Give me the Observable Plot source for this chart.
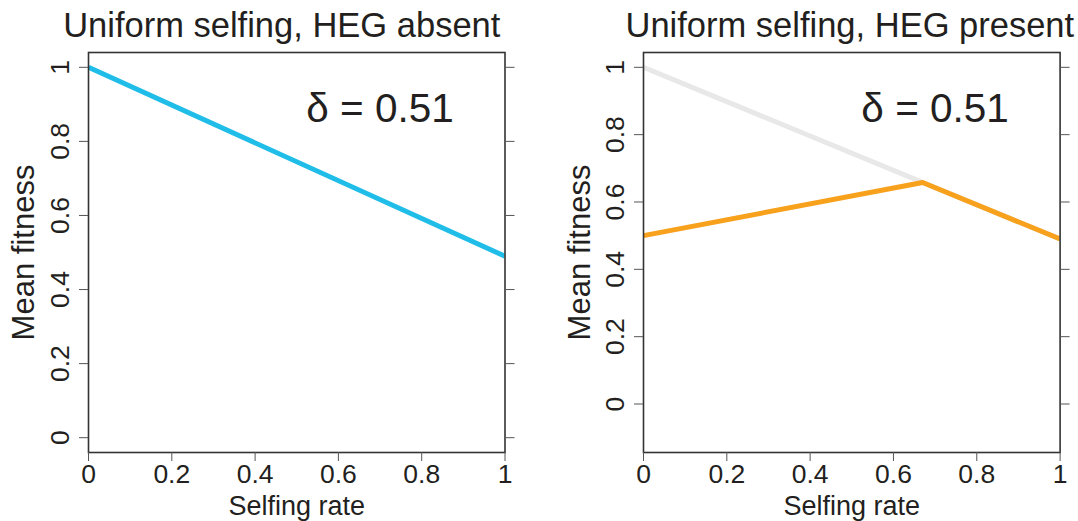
<!DOCTYPE html>
<html>
<head>
<meta charset="utf-8">
<script src="https://cdn.jsdelivr.net/npm/d3@7"></script>
<script src="https://cdn.jsdelivr.net/npm/@observablehq/plot@0.6"></script>
<style>
  html, body { margin: 0; padding: 0; background: #fff; }
  #wrap { width: 1078px; height: 521px; display: flex; flex-direction: row; }
  #wrap > svg, #wrap > figure { display: block; margin: 0; }
</style>
</head>
<body>
<div id="wrap"></div>
<script>
// ---- data ----
const titles = ["Uniform selfing, HEG absent", "Uniform selfing, HEG present"];
const deltaLabel = "δ = 0.51";
const xLabel = "Selfing rate";
const yLabel = "Mean fitness";

const tickValues = [0, 0.2, 0.4, 0.6, 0.8, 1];
const tickLabels = ["0", "0.2", "0.4", "0.6", "0.8", "1"];

// HEG absent (blue)
const absentSelfing = [0, 1];
const absentFitness = [1, 0.49];

// HEG present: reference (gray) and actual (orange)
const refSelfing = [0, 1];
const refFitness = [1, 0.49];
const presentSelfing = [0, 0.67, 1];
const presentFitness = [0.5, 0.658, 0.49];

const yDomains = [[-0.04, 1.04], [-0.144, 1.044]];

// ---- helpers ----
const FONT = "'Liberation Sans', Arial, Helvetica, sans-serif";
const INK = "#231f20";
const fmt = d => tickLabels[tickValues.indexOf(d)] ?? String(d);
const toRows = (xs, ys) => xs.map((x, i) => ({x, y: ys[i]}));

function panel({title, yDomain, lines, marginLeft, marginRight, titleDx, yLabelDx, deltaY}) {
  return Plot.plot({
    width: 539,
    height: 521,
    marginLeft, marginRight,
    marginTop: 52,
    marginBottom: 69,
    style: {fontFamily: FONT, fontSize: "26px", color: INK, background: "#fff", overflow: "visible"},
    x: {domain: [0, 1]},
    y: {domain: yDomain},
    marks: [
      ...lines.map(l => Plot.line(toRows(l.x, l.y), {x: "x", y: "y", stroke: l.color, strokeWidth: 5, strokeLinecap: "butt", strokeLinejoin: "round", clip: true})),
      Plot.frame({stroke: "#333", strokeWidth: 1.6}),
      Plot.axisX({anchor: "bottom", ticks: tickValues, tickFormat: fmt, tickSize: 9, tickPadding: 3, label: null, stroke: "#555", fontSize: 26.5}),
      Plot.axisY({anchor: "left", ticks: tickValues, tickFormat: fmt, tickSize: 9, tickPadding: 11, tickRotate: -90, textAnchor: "middle", lineAnchor: "bottom", label: null, stroke: "#555", fontSize: 26.5}),
      Plot.axisY({anchor: "right", ticks: tickValues, tickFormat: () => "", tickSize: 9, label: null, stroke: "#555"}),
      Plot.text([xLabel], {frameAnchor: "bottom", text: d => d, dy: 54, lineAnchor: "middle", fontSize: 27, fill: INK}),
      Plot.text([yLabel], {frameAnchor: "left", text: d => d, dx: yLabelDx, rotate: -90, textAnchor: "middle", lineAnchor: "middle", fontSize: 31, fill: INK}),
      Plot.text([title], {frameAnchor: "top", text: d => d, dx: titleDx, dy: -16, lineAnchor: "bottom", fontSize: 34.5, fill: INK}),
      Plot.text([deltaLabel], {x: 0.7, y: deltaY, text: d => d, textAnchor: "middle", lineAnchor: "middle", fontSize: 40.5, fill: INK})
    ]
  });
}

const wrap = document.getElementById("wrap");
wrap.append(panel({
  title: titles[0], yDomain: yDomains[0],
  lines: [{x: absentSelfing, y: absentFitness, color: "#1fbde8"}],
  marginLeft: 88, marginRight: 34.5, titleDx: -15, yLabelDx: -64, deltaY: 0.887
}));
wrap.append(panel({
  title: titles[1], yDomain: yDomains[1],
  lines: [
    {x: refSelfing, y: refFitness, color: "#e8e8e8"},
    {x: presentSelfing, y: presentFitness, color: "#f7a11c"}
  ],
  marginLeft: 104, marginRight: 18.4, titleDx: -2, yLabelDx: -63, deltaY: 0.875
}));
</script>
</body>
</html>
